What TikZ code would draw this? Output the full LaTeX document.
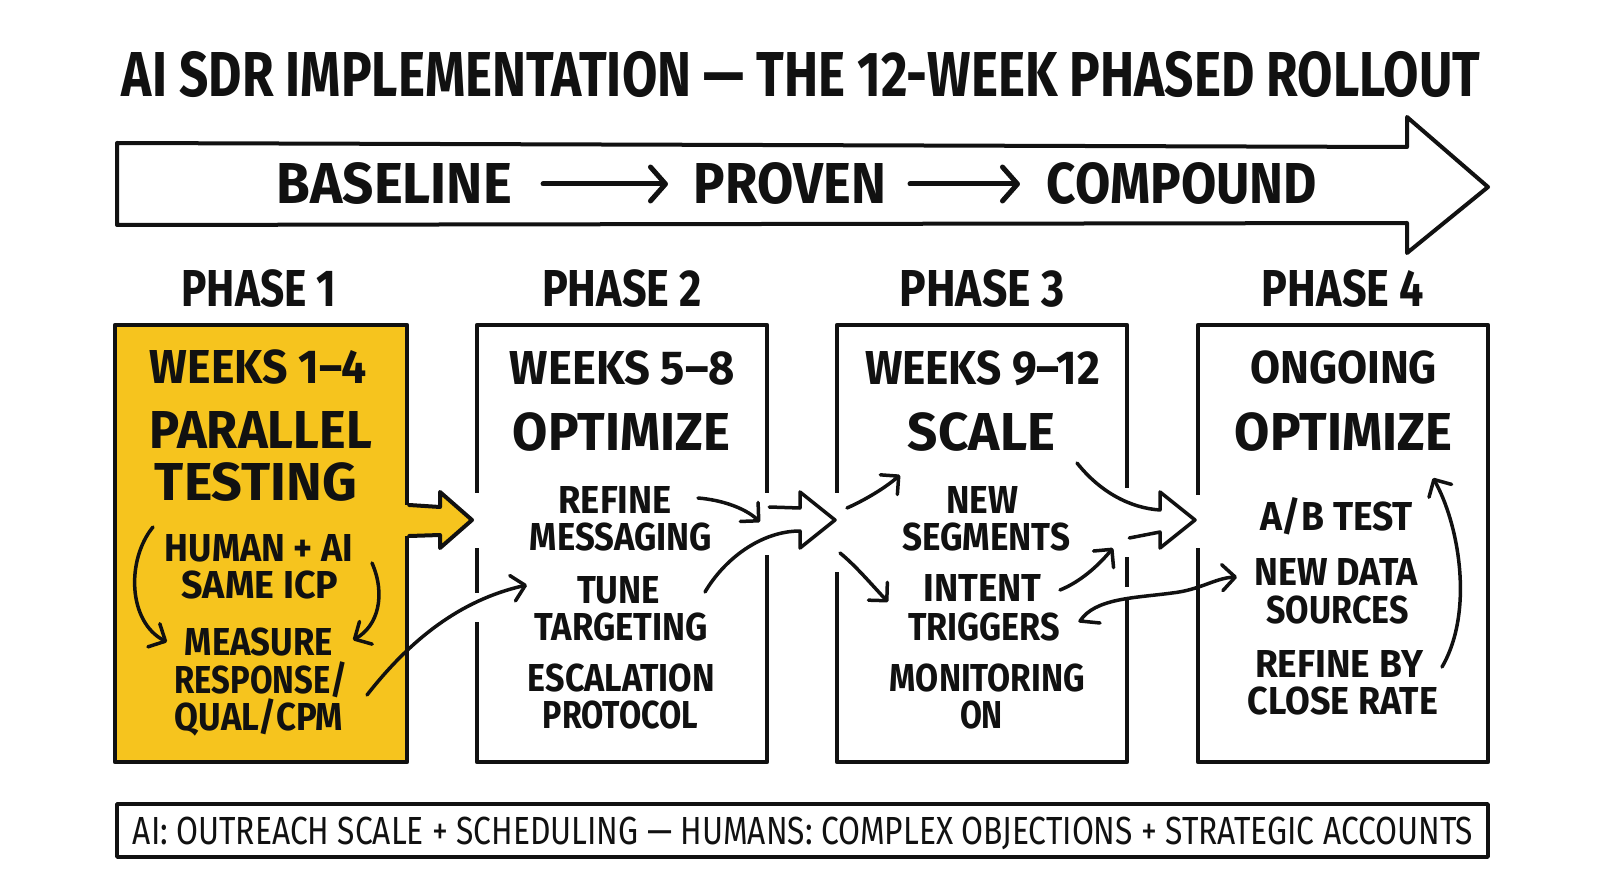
\documentclass[tikz,border=0pt]{standalone}
\usepackage{fontspec}
\setmainfont{Fira Sans}
\usepackage{graphicx}
\usetikzlibrary{arrows.meta}
\definecolor{gold}{RGB}{246,196,30}
\definecolor{ink}{RGB}{17,17,17}
\newcommand\tx[3]{\resizebox{#1pt}{#2pt}{\bfseries\vphantom{E}\smash{#3}}}
\newcommand\txr[3]{\resizebox{#1pt}{#2pt}{\vphantom{E}\smash{#3}}}
\begin{document}
\begin{tikzpicture}[x=1pt,y=-1pt,line cap=round,line join=round,
  lbl/.style={inner sep=0pt,outer sep=0pt,text=ink},
  phasebox/.style={draw=ink,line width=4.5pt,inner sep=0pt,minimum width=290pt,minimum height=437pt},
  outline/.style={draw=ink,line width=4pt},
  conn/.style={draw=ink,line width=3.5pt,-{Straight Barb[length=13pt,width=26pt,round]}},
  flow/.style={draw=ink,line width=5pt,-{Straight Barb[length=15pt,width=34pt,round]}},
  gap/.style={fill=white}]
\useasboundingbox (0,0) rectangle (1600,893);
\fill[white] (0,0) rectangle (1600,893);

% title
\node[lbl] (title) at (801,75) {\tx{1358}{44}{AI SDR IMPLEMENTATION — THE 12-WEEK PHASED ROLLOUT}};

% big arrow
\draw[outline] (117,143) -- (1407,147) -- (1407,117) -- (1488,187) -- (1407,253) -- (1407,223) -- (117,225) -- cycle;
\node[lbl] (b1) at (394.5,184) {\tx{235}{40}{BASELINE}};
\node[lbl] (b2) at (790,184) {\tx{192}{40}{PROVEN}};
\node[lbl] (b3) at (1182,184) {\tx{270}{40}{COMPOUND}};
\draw[flow,shorten <=31pt,shorten >=26pt] (b1.east) -- (b2.west);
\draw[flow,shorten <=24pt,shorten >=27pt] (b2.east) -- (b3.west);

% phase labels
\node[lbl] (ph1) at (259,288) {\tx{155}{36}{PHASE 1}};
\node[lbl] (ph2) at (622,288) {\tx{160}{36}{PHASE 2}};
\node[lbl] (ph3) at (982,288) {\tx{165}{36}{PHASE 3}};
\node[lbl] (ph4) at (1343,288) {\tx{162}{36}{PHASE 4}};

% boxes
\node[phasebox,fill=gold,minimum width=292pt] (p1) at (261,543.5) {};
\node[phasebox] (p2) at (622,543.5) {};
\node[phasebox] (p3) at (982,543.5) {};
\node[phasebox] (p4) at (1343,543.5) {};

% gaps in box edges
\fill[gap] (473,493) rectangle (481,548);
\fill[gap] (473,593) rectangle (481,622);
\fill[gap] (763,493) rectangle (771,555);
\fill[gap] (833,493) rectangle (841,572);
\fill[gap] (1123,488) rectangle (1131,557);
\fill[gap] (1123,587) rectangle (1131,600);
\fill[gap] (1194,495) rectangle (1202,548);

% yellow block arrow out of phase 1
\fill[gold] (403,505) -- (440,507) -- (440,492) -- (472,520) -- (440,548) -- (440,535) -- (403,536) -- cycle;
\draw[outline] (p1.east |- 0,505) -- (440,507) -- (440,492) -- (472,520) -- (440,548) -- (440,535) -- (p1.east |- 0,536);

% box 1 text
\node[lbl] (w1) at (258.5,367) {\tx{217}{33}{WEEKS 1–4}};
\node[lbl] (h1a) at (261,430) {\tx{222}{37}{PARALLEL}};
\node[lbl] (h1b) at (256,482) {\tx{202}{37}{TESTING}};
\node[lbl] (i1a) at (259,548) {\tx{188}{27}{HUMAN + AI}};
\node[lbl] (i1b) at (260,585) {\tx{157}{27}{SAME ICP}};
\node[lbl] (i1c) at (259,642) {\tx{148}{27}{MEASURE}};
\node[lbl] (i1d) at (261,680) {\tx{173}{27}{RESPONSE/}};
\node[lbl] (i1e) at (259,717) {\tx{168}{27}{QUAL/CPM}};

% box 2 text
\node[lbl] (w2) at (622.5,368) {\tx{225}{33}{WEEKS 5–8}};
\node[lbl] (h2) at (621.5,432) {\tx{217}{37}{OPTIMIZE}};
\node[lbl] (i2a) at (615,500) {\tx{113}{27}{REFINE}};
\node[lbl] (i2b) at (621,537) {\tx{182}{27}{MESSAGING}};
\node[lbl] (i2c) at (618.5,590) {\tx{83}{27}{TUNE}};
\node[lbl] (i2d) at (621.5,627) {\tx{173}{27}{TARGETING}};
\node[lbl] (i2e) at (621.5,678) {\tx{187}{27}{ESCALATION}};
\node[lbl] (i2f) at (620.5,715) {\tx{155}{27}{PROTOCOL}};

% box 3 text
\node[lbl] (w3) at (982.5,368) {\tx{235}{33}{WEEKS 9–12}};
\node[lbl] (h3) at (981.5,432) {\tx{147}{37}{SCALE}};
\node[lbl] (i3a) at (982.5,500) {\tx{72}{27}{NEW}};
\node[lbl] (i3b) at (986,537) {\tx{168}{27}{SEGMENTS}};
\node[lbl] (i3c) at (982.5,588) {\tx{118}{27}{INTENT}};
\node[lbl] (i3d) at (984,627) {\tx{152}{27}{TRIGGERS}};
\node[lbl] (i3e) at (987.5,678) {\tx{195}{27}{MONITORING}};
\node[lbl] (i3f) at (981.5,715) {\tx{43}{27}{ON}};

% box 4 text
\node[lbl] (w4) at (1343.5,367) {\tx{187}{32}{ONGOING}};
\node[lbl] (h4) at (1343.5,432) {\tx{217}{37}{OPTIMIZE}};
\node[lbl] (i4a) at (1336.5,516) {\tx{153}{28}{A/B TEST}};
\node[lbl] (i4b) at (1336.5,572) {\tx{163}{27}{NEW DATA}};
\node[lbl] (i4c) at (1337.5,610) {\tx{142}{27}{SOURCES}};
\node[lbl] (i4d) at (1339,664) {\tx{168}{27}{REFINE BY}};
\node[lbl] (i4e) at (1343,701) {\tx{190}{27}{CLOSE RATE}};

% connector end points
\coordinate (c1a) at (153,527); \coordinate (c1b) at (167,642);
\coordinate (c2a) at (372,563); \coordinate (c2b) at (353,640);
\coordinate (c3a) at (367,695); \coordinate (c3b) at (527,585);
\coordinate (c4a) at (698,498); \coordinate (c4b) at (760,522);
\coordinate (c5a) at (847,508); \coordinate (c5b) at (900,475);
\coordinate (c6a) at (840,553); \coordinate (c6b) at (888,602);
\coordinate (c7a) at (1060,590); \coordinate (c7b) at (1113,548);
\coordinate (c8a) at (1100,623); \coordinate (c8b) at (1237,577);
\coordinate (c9a) at (1442,667); \coordinate (c9b) at (1433,478);
\coordinate (k2) at (705,592); \coordinate (k3) at (1077,463);

% connectors
\draw[conn] (c1a) .. controls (126,560) and (128,622) .. (c1b);
\draw[conn] (c2a) .. controls (386,595) and (378,626) .. (c2b);
\draw[conn] (c3a) .. controls (410,640) and (460,600) .. (c3b);
\draw[conn] (c4a) .. controls (722,500) and (745,508) .. (c4b);
\draw[conn] (c5a) .. controls (865,500) and (885,488) .. (c5b);
\draw[conn] (c6a) .. controls (855,565) and (872,585) .. (c6b);
\draw[conn] (c7a) .. controls (1080,582) and (1098,566) .. (c7b);
\draw[conn] (c8a) -- (1080,621) .. controls (1095,598) and (1135,598) .. (1172,593) .. controls (1200,590) and (1215,578) .. (c8b);
\draw[conn] (c9a) .. controls (1475,610) and (1458,522) .. (c9b);

% hollow block arrows
\draw[outline,line width=3.5pt] (p2.east |- 0,507) -- (800,508) -- (800,492) -- (835,520) -- (800,548) -- (800,531) .. controls (762,531) and (725,558) .. (k2);
\draw[outline,line width=3.5pt] (k3) .. controls (1100,492) and (1130,508) .. (1160,510) -- (1160,492) -- (1195,520) -- (1160,548) -- (1160,532) -- (p3.east |- 0,538);

% bottom banner
\node[draw=ink,line width=3.5pt,inner sep=0pt,minimum width=1371pt,minimum height=53pt] (ban) at (802.5,830.5) {};
\node[lbl] (bant) at (803,831) {\txr{1340}{27}{AI: OUTREACH SCALE + SCHEDULING — HUMANS: COMPLEX OBJECTIONS + STRATEGIC ACCOUNTS}};
\end{tikzpicture}
\end{document}
